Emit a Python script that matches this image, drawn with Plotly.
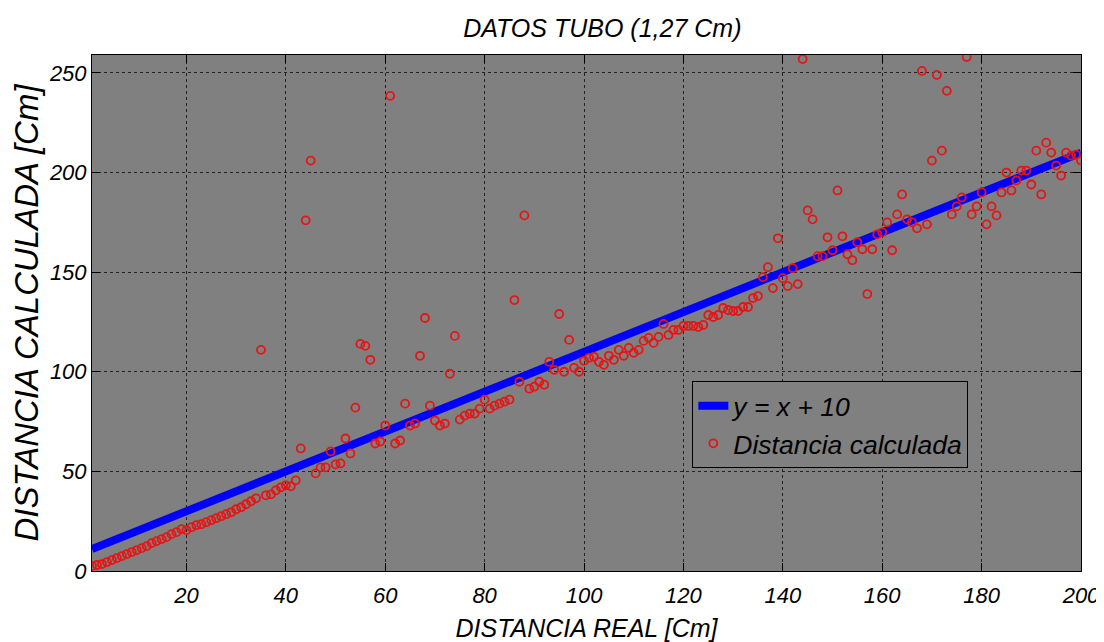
import plotly.graph_objects as go

# ---- data ----
distancia_real = list(range(1, 201))
distancia_calculada = [
    2.5, 3, 3.5, 4.5, 5.5, 6.5, 7.5, 8.5, 9.5, 10.5,
    11.5, 12.5, 14, 15, 16, 17, 18.5, 19.5, 21, 20.5,
    22, 23, 23.5, 24.5, 25.5, 26.5, 27.5, 28.5, 29.5, 31,
    32, 33.5, 35, 36.5, 111, 38, 38.5, 40.5, 42, 43,
    42.5, 45.5, 61.5, 176, 206, 49, 52, 52, 60, 53.5,
    54, 66.5, 59, 82, 114, 113, 106, 64, 65, 73,
    238.5, 64, 65.5, 84, 73, 74, 108, 127, 83, 75.5,
    73, 74, 99, 118, 76, 78, 79, 79, 81.5, 86,
    81.5, 83, 84, 85, 86, 136, 95, 178.5, 91.5, 92.5,
    95, 93.5, 105, 101, 129, 100, 116, 102, 100, 105.5,
    107, 107.5, 105, 103.5, 108, 106, 111, 108, 112, 109.5,
    111, 115.5, 117, 114.5, 117.5, 124, 118.5, 121, 121, 123,
    123, 123, 122.5, 123.5, 128.5, 127.5, 128.5, 132, 131, 130.5,
    130.5, 132.5, 132.5, 137, 138, 147.5, 152.5, 142, 167, 147,
    143, 152, 144, 257, 181, 176.5, 158, 158, 167.5, 161,
    191, 168, 159, 156, 165, 161.5, 139, 161.5, 169, 170,
    175, 161, 179, 189, 176.5, 175, 172, 251, 174, 206,
    249, 211, 241, 179, 183, 187.5, 258, 179, 183, 190,
    174, 183, 178.5, 190, 200, 191, 196, 201, 201, 194,
    211, 189, 215, 210, 203.5, 198.5, 210, 208.5, 209, 206,
]
offset = 10
linea_referencia = [x + offset for x in distancia_real]

x_ticks = [20, 40, 60, 80, 100, 120, 140, 160, 180, 200]
y_ticks = [0, 50, 100, 150, 200, 250]

titulo = "DATOS TUBO (1,27 Cm)"
x_titulo = "DISTANCIA REAL [Cm]"
y_titulo = "DISTANCIA CALCULADA [Cm]"
nombre_linea = "y = x + 10"
nombre_puntos = "Distancia calculada"

FONT = "Liberation Sans, Arial, Helvetica, sans-serif"

fig = go.Figure()
fig.add_trace(go.Scatter(
    x=distancia_real, y=linea_referencia, mode="lines", name=nombre_linea,
    line=dict(color="#0000ff", width=8),
))
fig.add_trace(go.Scatter(
    x=distancia_real, y=distancia_calculada, mode="markers", name=nombre_puntos,
    marker=dict(symbol="circle-open", size=8, color="#e61414",
                line=dict(width=1.8, color="#e61414")),
    cliponaxis=True,
))

axis_common = dict(
    showline=True, linecolor="black", linewidth=1, mirror="allticks",
    ticks="inside", ticklen=8, tickcolor="black", tickwidth=1,
    showgrid=True, gridcolor="rgba(20,20,20,0.85)", griddash="dot", gridwidth=1,
    zeroline=False,
    tickfont=dict(family=FONT, size=22, color="black", style="italic"),
)

fig.update_layout(
    width=1104, height=642,
    paper_bgcolor="white", plot_bgcolor="#808080",
    margin=dict(l=82, r=31, t=47, b=77),
    title=dict(text=titulo, x=0.516, xref="paper", xanchor="center",
               y=1 - 20 / 642, yref="container", yanchor="middle",
               font=dict(family=FONT, size=25, color="black", style="italic")),
    xaxis=dict(range=[1, 200], tickvals=x_ticks, ticktext=[str(v) for v in x_ticks],
               ticklabelstandoff=5,
               title=dict(text=x_titulo, standoff=12,
                          font=dict(family=FONT, size=25, color="black", style="italic")),
               **axis_common),
    yaxis=dict(range=[0, 259], tickvals=y_ticks, ticktext=[str(v) for v in y_ticks],
               title=dict(text=y_titulo, standoff=6,
                          font=dict(family=FONT, size=33, color="black", style="italic")),
               **axis_common),
    legend=dict(x=0.607, y=0.368, xanchor="left", yanchor="top",
                bgcolor="#808080", bordercolor="black", borderwidth=1,
                font=dict(family=FONT, size=26.5, color="black", style="italic"),
                itemwidth=30, tracegroupgap=0),
    showlegend=True,
)

fig.write_html("out.html")
